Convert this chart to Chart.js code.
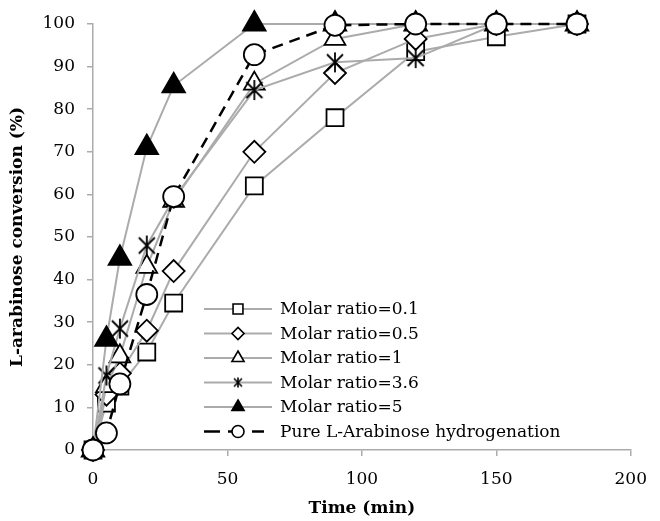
<!DOCTYPE html>
<html>
<head>
<meta charset="utf-8">
<script src="https://cdn.jsdelivr.net/npm/chart.js@4.4.0/dist/chart.umd.min.js"></script>
<style>
  html, body { margin: 0; padding: 0; background: #fff; }
  #wrap { width: 660px; height: 521px; position: relative; }
</style>
</head>
<body>
<div id="wrap"><canvas id="myChart"></canvas></div>
<script>
const times = [0, 5, 10, 20, 30, 60, 90, 120, 150, 180];
const ratio01 = [0, 11, 15, 23, 34.5, 62, 78, 93.5, 97, 100];
const ratio05 = [0, 13, 18, 28, 42, 70, 88.5, 96.5, 100, 100];
const ratio1 = [0, 15, 22, 43, 58.5, 86, 96.5, 100, 100, 100];
const ratio36 = [0, 17.5, 28.5, 48, 59, 84.5, 91, 92, 100, 100];
const ratio5 = [0, 26, 45, 71, 85.5, 100, 100, 100, 100, 100];
const pureArabinose = [0, 4, 15.5, 36.5, 59.5, 92.8, 99.7, 100, 100, 100];

const seriesLabels = [
  "Molar ratio=0.1",
  "Molar ratio=0.5",
  "Molar ratio=1",
  "Molar ratio=3.6",
  "Molar ratio=5",
  "Pure L-Arabinose hydrogenation",
];

const FONT = "'DejaVu Serif', serif";
const GREY = "#ababab";

// asterisk marker: vertical stroke plus an X
function makeStar(size, lw) {
  const c = document.createElement("canvas");
  c.width = size;
  c.height = size;
  const ctx = c.getContext("2d");
  const m = size / 2;
  const r = size / 2 - 1;
  ctx.strokeStyle = "#000";
  ctx.lineWidth = lw;
  ctx.beginPath();
  ctx.moveTo(m, m - r);
  ctx.lineTo(m, m + r);
  const d = r * 0.8;
  ctx.moveTo(m - d, m - d);
  ctx.lineTo(m + d, m + d);
  ctx.moveTo(m + d, m - d);
  ctx.lineTo(m - d, m + d);
  ctx.stroke();
  return c;
}

const starBig = makeStar(22, 1.8);
const starSmall = makeStar(12, 1.6);

const markers = [
  { style: "rect", radius: 12, fill: "#fff", legendRadius: 7 },
  { style: "rectRot", radius: 11, fill: "#fff", legendRadius: 6 },
  { style: "triangle", radius: 12, fill: "#fff", legendRadius: 7 },
  { style: starBig, radius: 11, fill: "#fff", legendStyle: starSmall, legendRadius: 6 },
  { style: "triangle", radius: 13, fill: "#000", legendRadius: 7 },
  { style: "circle", radius: 10.5, fill: "#fff", legendRadius: 6 },
];

const values = [ratio01, ratio05, ratio1, ratio36, ratio5, pureArabinose];

const datasets = values.map((vals, i) => {
  const mk = markers[i];
  const isPure = i === 5;
  return {
    label: seriesLabels[i],
    data: times.map((t, j) => ({ x: t, y: vals[j] })),
    showLine: true,
    clip: false,
    borderColor: isPure ? "#000" : GREY,
    borderWidth: isPure ? 2.5 : 2,
    borderDash: isPure ? [11, 7] : [],
    tension: 0,
    pointStyle: mk.style,
    pointRadius: mk.radius,
    pointBackgroundColor: mk.fill,
    pointBorderColor: "#000",
    pointBorderWidth: 1.8,
    order: 6 - i,
  };
});

// legend drawn inside the plot, lower right
const insideLegend = {
  id: "insideLegend",
  afterDraw(chart) {
    const ctx = chart.ctx;
    const x0 = 204, x1 = 272, xm = 238, tx = 280;
    ctx.save();
    datasets.forEach((ds, i) => {
      const y = 309 + i * 24.5;
      const mk = markers[i];
      ctx.beginPath();
      ctx.strokeStyle = ds.borderColor;
      ctx.lineWidth = ds.borderWidth;
      ctx.setLineDash(i === 5 ? [16, 8] : []);
      ctx.moveTo(x0, y);
      ctx.lineTo(i === 5 ? 264 : x1, y);
      ctx.stroke();
      ctx.setLineDash([]);
      ctx.fillStyle = mk.fill;
      ctx.strokeStyle = "#000";
      ctx.lineWidth = 1.6;
      Chart.helpers.drawPoint(ctx, {
        pointStyle: mk.legendStyle || mk.style,
        radius: mk.legendRadius,
        rotation: 0,
        borderWidth: 1.6,
      }, xm, y);
      ctx.fillStyle = "#000";
      ctx.font = "17px " + FONT;
      ctx.textBaseline = "middle";
      ctx.textAlign = "left";
      ctx.fillText(ds.label, tx, y + 1);
    });
    ctx.restore();
  },
};

const config = {
  type: "scatter",
  data: { datasets: datasets },
  options: {
    responsive: true,
    maintainAspectRatio: false,
    animation: false,
    layout: { padding: { top: 24, right: 19, left: 0, bottom: 0 } },
    plugins: {
      legend: { display: false },
      tooltip: { enabled: false },
    },
    scales: {
      x: {
        type: "linear",
        min: 0,
        max: 200,
        afterFit(scale) { scale.height = 71; },
        ticks: { stepSize: 50, color: "#000", font: { family: FONT, size: 17 }, padding: 13, maxRotation: 0 },
        grid: { drawOnChartArea: false, drawTicks: true, tickLength: 6, color: GREY, lineWidth: 1.5 },
        border: { color: GREY, width: 1.5 },
        title: {
          display: true,
          text: "Time (min)",
          color: "#000",
          font: { family: FONT, size: 17, weight: "bold" },
          padding: { top: 0, bottom: 2 },
        },
      },
      y: {
        type: "linear",
        min: 0,
        max: 100,
        afterFit(scale) { scale.width = 93; },
        ticks: { stepSize: 10, color: "#000", font: { family: FONT, size: 17 }, padding: 12 },
        grid: { drawOnChartArea: false, drawTicks: true, tickLength: 6, color: GREY, lineWidth: 1.5 },
        border: { color: GREY, width: 1.5 },
        title: {
          display: true,
          text: "L-arabinose conversion (%)",
          color: "#000",
          font: { family: FONT, size: 17, weight: "bold" },
          padding: { top: 7, bottom: 0 },
        },
      },
    },
  },
  plugins: [insideLegend],
};

var myChart = new Chart(document.getElementById("myChart"), config);
</script>
</body>
</html>
